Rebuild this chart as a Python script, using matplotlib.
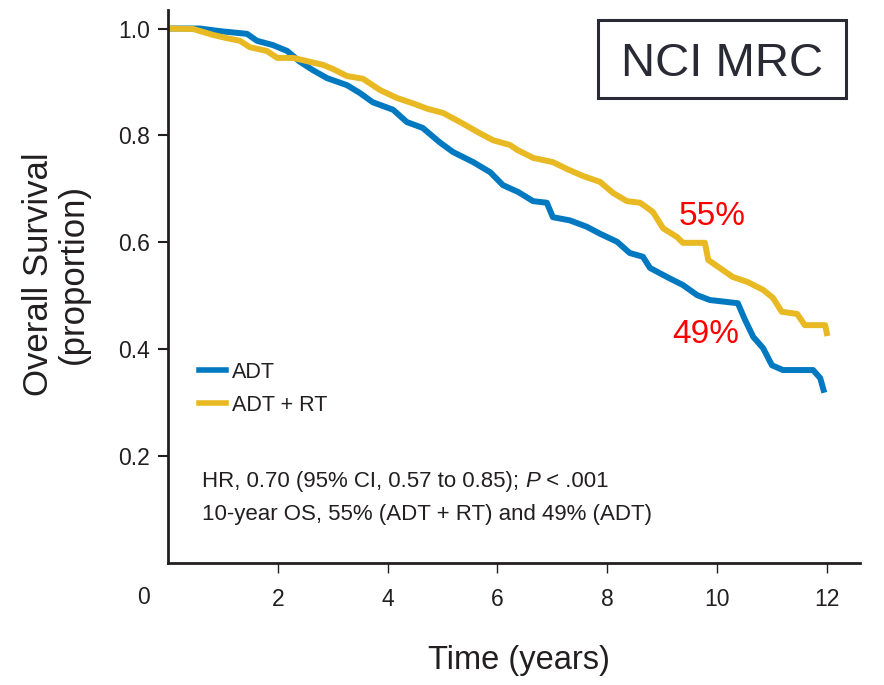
import matplotlib
matplotlib.use("Agg")
import matplotlib.pyplot as plt
from matplotlib.patches import Rectangle

# ---- data ----
adt_t = [0, 0.58, 0.95, 1.44, 1.62, 1.91, 2.17, 2.40, 2.64, 2.90, 3.26, 3.50, 3.73,
         4.10, 4.35, 4.64, 4.95, 5.19, 5.56, 5.87, 6.10, 6.38, 6.65, 6.90, 7.01,
         7.32, 7.63, 7.87, 8.18, 8.41, 8.65, 8.78, 9.09, 9.38, 9.64, 9.87, 10.38,
         10.51, 10.66, 10.84, 11.00, 11.20, 11.75, 11.88, 11.94]
adt_s = [1.0, 1.0, 0.995, 0.990, 0.977, 0.969, 0.958, 0.938, 0.922, 0.907, 0.894, 0.879, 0.862,
         0.848, 0.825, 0.814, 0.787, 0.769, 0.750, 0.731, 0.707, 0.694, 0.677, 0.674, 0.647,
         0.641, 0.629, 0.616, 0.601, 0.580, 0.573, 0.552, 0.535, 0.520, 0.501, 0.492, 0.486,
         0.455, 0.423, 0.402, 0.370, 0.361, 0.361, 0.346, 0.324]

rt_t = [0, 0.46, 0.82, 1.07, 1.31, 1.49, 1.80, 1.99, 2.28, 2.53, 2.82, 3.01, 3.26,
        3.55, 3.86, 4.17, 4.46, 4.72, 5.01, 5.32, 5.68, 5.92, 6.23, 6.36, 6.65,
        7.01, 7.27, 7.56, 7.87, 8.11, 8.36, 8.60, 8.83, 9.02, 9.27, 9.38, 9.78,
        9.84, 10.05, 10.29, 10.55, 10.84, 11.02, 11.18, 11.46, 11.60, 11.97, 12.0]
rt_s = [1.0, 0.999, 0.988, 0.982, 0.977, 0.965, 0.958, 0.945, 0.945, 0.939, 0.932, 0.924, 0.911,
        0.906, 0.885, 0.870, 0.860, 0.850, 0.842, 0.825, 0.804, 0.791, 0.782, 0.773, 0.758,
        0.750, 0.737, 0.724, 0.713, 0.692, 0.677, 0.674, 0.657, 0.626, 0.610, 0.599, 0.599,
        0.567, 0.552, 0.535, 0.526, 0.511, 0.496, 0.470, 0.466, 0.445, 0.445, 0.430]

series_labels = ["ADT", "ADT + RT"]
x_ticks = [2, 4, 6, 8, 10, 12]
y_ticks = [0.2, 0.4, 0.6, 0.8, 1.0]
pct_labels = ["55%", "49%"]

BLUE = "#0079C1"
GOLD = "#E8B922"
DARK = "#231F20"
FONT = ["Liberation Sans", "DejaVu Sans"]

fig = plt.figure(figsize=(8.84, 6.85), dpi=100)
W, H = 884, 685
x0, x1 = 168, 860
ytop, ybot = 10, 563
ax = fig.add_axes([x0 / W, 1 - ybot / H, (x1 - x0) / W, (ybot - ytop) / H])

ax.plot(adt_t, adt_s, color=BLUE, lw=4.3, label=series_labels[0])
ax.plot(rt_t, rt_s, color=GOLD, lw=4.3, label=series_labels[1])

ax.set_xlim(0, (x1 - x0) / 54.9)
ax.set_ylim(0, (ybot - ytop) / 534.5)

for s in ["top", "right"]:
    ax.spines[s].set_visible(False)
for s in ["left", "bottom"]:
    ax.spines[s].set_linewidth(2.0)
    ax.spines[s].set_color(DARK)

ax.set_xticks(x_ticks)
ax.set_xticklabels([str(v) for v in x_ticks], family=FONT, fontsize=16.5, color=DARK)
ax.set_yticks(y_ticks)
ax.set_yticklabels([f"{v:.1f}" for v in y_ticks], family=FONT, fontsize=16.5, color=DARK)
ax.tick_params(axis="x", direction="out", length=7, width=1.0, pad=11, colors=DARK)
ax.tick_params(axis="y", direction="out", length=7, width=1.5, pad=6, colors=DARK)

# origin label
fig.text(143 / W, 1 - 598 / H, "0", family=FONT, fontsize=16.5, color=DARK,
         ha="center", va="center")

# axis titles
fig.text(519 / W, 1 - 660 / H, "Time (years)", family=FONT, fontsize=23.5, color=DARK,
         ha="center", va="center")
fig.text(56 / W, 1 - 274 / H, "Overall Survival\n(proportion)", family=FONT, fontsize=25,
         color=DARK, ha="center", va="center", rotation=90, multialignment="center",
         linespacing=1.1)

# legend
leg = ax.legend(loc="upper left", bbox_to_anchor=(199 / W, 1 - 362 / H),
                bbox_transform=fig.transFigure, frameon=False,
                prop={"family": FONT, "size": 15.5}, handlelength=1.25,
                handletextpad=0.3, labelspacing=0.55, borderpad=0, borderaxespad=0)
for line in leg.get_lines():
    line.set_linewidth(4)
for t in leg.get_texts():
    t.set_color(DARK)

# HR text with italic P
t1 = fig.text(202 / W, 1 - 487 / H, "HR, 0.70 (95% CI, 0.57 to 0.85); ", family=FONT,
              fontsize=16, color=DARK, ha="left", va="baseline")
t2 = ax.annotate("P", xy=(1, 0), xycoords=t1, family=FONT, fontsize=16, color=DARK,
                 style="italic", ha="left", va="bottom")
t3 = ax.annotate(" < .001", xy=(1, 0), xycoords=t2, family=FONT, fontsize=16, color=DARK,
                 ha="left", va="bottom")
fig.text(202 / W, 1 - 520 / H, "10-year OS, 55% (ADT + RT) and 49% (ADT)", family=FONT,
         fontsize=16, color=DARK, ha="left", va="baseline")

# percentages
fig.text(712 / W, 1 - 225 / H, pct_labels[0], fontsize=24, color="#FF0000",
         family=FONT, ha="center", va="baseline")
fig.text(706 / W, 1 - 343 / H, pct_labels[1], fontsize=24, color="#FF0000",
         family=FONT, ha="center", va="baseline")

# NCI MRC box
fig.patches.append(Rectangle((598 / W, 1 - 98 / H), (846 - 598) / W, (98 - 20) / H,
                             transform=fig.transFigure, fc="white", ec="#2A2A35", lw=2.2,
                             zorder=5))
fig.text(722 / W, 1 - 76 / H, "NCI MRC", fontsize=34, color="#2A2A35",
         family=FONT, ha="center", va="baseline", zorder=6)

fig.savefig("out.png", dpi=100)
